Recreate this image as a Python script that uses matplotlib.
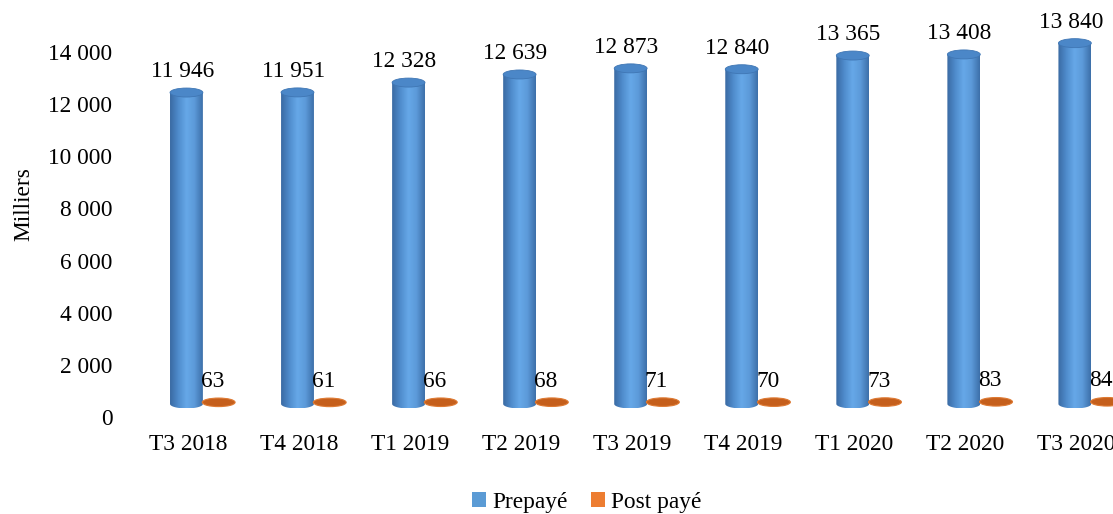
import numpy as np
import matplotlib
matplotlib.use("Agg")
import matplotlib.pyplot as plt
from matplotlib.patches import Ellipse, Patch, PathPatch
from matplotlib.path import Path
from matplotlib.colors import LinearSegmentedColormap

plt.rcParams['font.family'] = ['Liberation Serif', 'DejaVu Serif']

# data
quarters = ["T3 2018", "T4 2018", "T1 2019", "T2 2019", "T3 2019",
            "T4 2019", "T1 2020", "T2 2020", "T3 2020"]
prepaye = [11946, 11951, 12328, 12639, 12873, 12840, 13365, 13408, 13840]
post_paye = [63, 61, 66, 68, 71, 70, 73, 83, 84]
yticks = [0, 2000, 4000, 6000, 8000, 10000, 12000, 14000]


def fmt(v):
    # french style thousands separator
    return "{:,}".format(v).replace(",", " ")


fig = plt.figure(figsize=(11.13, 5.14), dpi=100)
# ylim goes above 14000 so the tallest caps are not cut
ymax = 15400
ax = fig.add_axes([0.1321, 0.1887, 0.898, 0.7811])

floor = 500      # 3d floor offset
bw = 0.296       # cylinder width (x units)
eh = 345         # ellipse height (y units)
dx = 0.145       # offset of each series from category centre

body_cmap = LinearSegmentedColormap.from_list(
    "cyl", ["#3a6aa3", "#4f8ccc", "#66a8e8", "#5c9ad9", "#3d70aa"])
grad = np.linspace(0, 1, 64).reshape(1, -1)

for i, (v, w) in enumerate(zip(prepaye, post_paye)):
    xb = i - dx
    top = floor + v
    # cylinder body: rectangle + bottom half ellipse, shaded with gradient
    verts = []
    for t in np.linspace(np.pi, 2 * np.pi, 40):
        verts.append((xb + bw / 2 * np.cos(t), floor + eh / 2 * np.sin(t)))
    verts += [(xb + bw / 2, top), (xb - bw / 2, top), verts[0]]
    clip = PathPatch(Path(verts), transform=ax.transData,
                     facecolor="none", edgecolor="none")
    ax.add_patch(clip)
    im = ax.imshow(grad, cmap=body_cmap, aspect="auto", zorder=2,
                   extent=[xb - bw / 2, xb + bw / 2, floor - eh / 2, top],
                   interpolation="bilinear")
    im.set_clip_path(clip)
    # top cap
    ax.add_patch(Ellipse((xb, top), bw, eh, facecolor="#4b87c8",
                         edgecolor="#3f76b4", lw=0.6, zorder=3))
    ax.annotate(fmt(v), (xb, top), xytext=(-3, 15), textcoords="offset points",
                ha="center", va="center", fontsize=16.8, annotation_clip=False)

    # post paye disc
    xo = i + dx
    ax.add_patch(Ellipse((xo, floor + w), bw, eh * 0.95, facecolor="#c55f1c",
                         edgecolor="#de7a33", lw=0.8, zorder=3))
    ax.annotate(fmt(w), (xo, floor + w), xytext=(-4.5, 15),
                textcoords="offset points", ha="center", va="center",
                fontsize=16.8, annotation_clip=False, zorder=4)

ax.set_xlim(-0.5, 8.5)
ax.set_ylim(0, ymax)
ax.set_xticks(np.arange(len(quarters)) - 0.13)
ax.set_xticklabels(quarters, fontsize=16.8)
ax.set_yticks(yticks)
ax.set_yticklabels([fmt(t) for t in yticks], fontsize=16.8)
ax.tick_params(axis="y", length=0, pad=25)
ax.tick_params(axis="x", length=0, pad=12)
for s in ax.spines.values():
    s.set_visible(False)

fig.text(0.021, 0.603, "Milliers", rotation=90, ha="center", va="center",
         fontsize=16.8)

handles = [Patch(facecolor="#5b9bd5", edgecolor="none"),
           Patch(facecolor="#ed7d31", edgecolor="none")]
fig.legend(handles, ["Prepayé", "Post payé"], loc="center",
           bbox_to_anchor=(0.527, 0.023), ncol=2, frameon=False,
           fontsize=16.8, handlelength=0.6, handleheight=0.6,
           handletextpad=0.25, columnspacing=1.0, borderaxespad=0)

fig.savefig("out.png", dpi=100)
